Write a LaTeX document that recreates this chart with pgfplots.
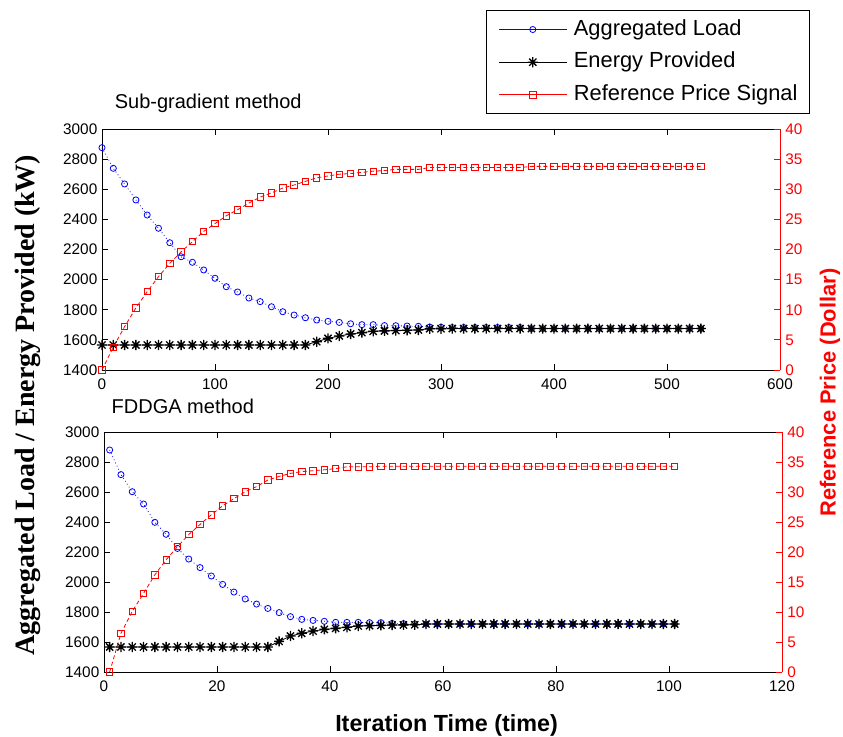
\documentclass[border=0pt]{standalone}
\usepackage{fontspec}
\setmainfont{Liberation Sans}
\newfontfamily\timesfont{Liberation Serif}
\usepackage{pgfplots}
\pgfplotsset{compat=1.18}
\usepackage{pgfplotstable}

% MATLAB-like '*' marker: a + and an x on top of each other
\pgfdeclareplotmark{mstar}{%
  \pgfpathmoveto{\pgfqpoint{-\pgfplotmarksize}{0pt}}%
  \pgfpathlineto{\pgfqpoint{\pgfplotmarksize}{0pt}}%
  \pgfpathmoveto{\pgfqpoint{0pt}{-\pgfplotmarksize}}%
  \pgfpathlineto{\pgfqpoint{0pt}{\pgfplotmarksize}}%
  \pgfpathmoveto{\pgfqpoint{-.707\pgfplotmarksize}{-.707\pgfplotmarksize}}%
  \pgfpathlineto{\pgfqpoint{.707\pgfplotmarksize}{.707\pgfplotmarksize}}%
  \pgfpathmoveto{\pgfqpoint{-.707\pgfplotmarksize}{.707\pgfplotmarksize}}%
  \pgfpathlineto{\pgfqpoint{.707\pgfplotmarksize}{-.707\pgfplotmarksize}}%
  \pgfusepathqstroke}

% sub-gradient method
\pgfplotstableread{
x load energy price
0 2876 1566 0
10 2739 1566 3.8
20 2635 1566 7.2
30 2529 1566 10.3
40 2429 1566 13.0
50 2341 1566 15.5
60 2245 1566 17.7
70 2152 1566 19.6
80 2115 1566 21.3
90 2064 1566 23.0
100 2009 1566 24.3
110 1953 1566 25.6
120 1918 1566 26.6
130 1878 1566 27.7
140 1854 1566 28.7
150 1820 1566 29.4
160 1787 1566 30.2
170 1765 1566 30.7
180 1747 1566 31.3
190 1732 1588 31.9
200 1723 1610 32.2
210 1716 1626 32.5
220 1707 1639 32.6
230 1701 1648 32.8
240 1701 1657 33.0
250 1695 1660 33.1
260 1694 1662 33.3
270 1692 1664 33.3
280 1690 1666 33.3
290 1685 1674 33.6
300 1684 1674 33.6
310 1682 1675 33.6
320 1682 1675 33.6
330 1682 1675 33.6
340 1682 1675 33.6
350 1682 1675 33.6
360 1682 1675 33.6
370 1682 1675 33.6
380 1675 1675 33.8
390 1675 1675 33.8
400 1675 1675 33.8
410 1675 1675 33.8
420 1675 1675 33.8
430 1675 1675 33.8
440 1675 1675 33.8
450 1675 1675 33.8
460 1675 1675 33.8
470 1675 1675 33.8
480 1675 1675 33.8
490 1675 1675 33.8
500 1675 1675 33.8
510 1675 1675 33.8
520 1675 1675 33.8
530 1675 1675 33.8
}\subgrad

% FDDGA method
\pgfplotstableread{
x load energy price
1 2880 1567 0
3 2716 1567 6.45
5 2602 1567 10.1
7 2520 1567 13.1
9 2398 1567 16.2
11 2318 1567 18.7
13 2224 1567 20.9
15 2153 1567 22.9
17 2096 1567 24.6
19 2040 1567 26.2
21 1984 1567 27.7
23 1933 1567 28.9
25 1887 1567 30.05
27 1853 1567 30.9
29 1824 1567 32.0
31 1796 1604 32.6
33 1769 1640 33.1
35 1751 1658 33.4
37 1744 1673 33.55
39 1738 1684 33.7
41 1731 1691 33.9
43 1731 1698 34.2
45 1731 1707 34.2
47 1729 1709 34.2
49 1729 1711 34.3
51 1724 1713 34.3
53 1722 1714 34.3
55 1721 1715 34.3
57 1720 1720 34.3
59 1720 1720 34.3
61 1720 1720 34.3
63 1720 1720 34.3
65 1720 1720 34.3
67 1720 1720 34.3
69 1720 1720 34.3
71 1720 1720 34.3
73 1720 1720 34.3
75 1720 1720 34.3
77 1720 1720 34.3
79 1720 1720 34.3
81 1720 1720 34.3
83 1720 1720 34.3
85 1720 1720 34.3
87 1720 1720 34.3
89 1720 1720 34.3
91 1720 1720 34.3
93 1720 1720 34.3
95 1720 1720 34.3
97 1720 1720 34.3
99 1720 1720 34.3
101 1720 1720 34.3
}\fddga

\pgfplotsset{
  mat/.style={
    scale only axis, width=508.5pt, clip=false,
    tick align=inside, major tick length=4.5pt,
    axis line style={line width=0.6pt}, every tick/.style={line width=0.6pt},
    tick label style={font=\fontsize{11.5}{13}\selectfont},
    xticklabel style={yshift=-3pt},
    /pgf/number format/assume math mode=true,
    /pgf/number format/1000 sep={},
    title style={font=\fontsize{15}{17}\selectfont, anchor=base west},
  },
  leftax/.style={mat, axis y line*=left, ymin=1400, ymax=3000, ytick={1400,1600,...,3000}},
  rightax/.style={mat, axis y line*=right, axis x line=none, ymin=0, ymax=40,
    ytick={0,5,...,40}, y axis line style={red, line width=0.6pt},
    ytick style={red}, yticklabel style={red, xshift=0.5pt}},
  loadplot/.style={blue, line width=0.6pt, dotted, mark=o, mark size=2.3pt,
    mark options={solid, line width=0.6pt}},
  energyplot/.style={black, line width=0.6pt, mark=mstar, mark size=3.8pt,
    mark options={line width=1pt}},
  priceplot/.style={red, line width=0.6pt, dash pattern=on 3pt off 2pt, mark=square,
    mark size=2.4pt, mark options={solid, line width=0.6pt}},
}

\begin{document}
\begin{tikzpicture}
\useasboundingbox (-76.5pt,96.75pt) rectangle (555.75pt,-455.25pt);

% ---- top: sub-gradient method
\begin{axis}[leftax, at={(0,0)}, anchor=north west, height=180.75pt,
  xmin=0, xmax=600, xtick={0,100,...,600},
  title={Sub-gradient method}, title style={at={(0.012,1)}, yshift=9.2pt}]
\addplot[loadplot] table[x=x, y=load] {\subgrad};
\addplot[energyplot] table[x=x, y=energy] {\subgrad};
\end{axis}
\begin{axis}[rightax, at={(0,0)}, anchor=north west, height=180.75pt,
  xmin=0, xmax=600,
  legend image code/.code={\draw[mark repeat=2, mark phase=2, #1]
    plot coordinates {(0pt,0pt) (25.5pt,0pt) (51pt,0pt)};},
  legend style={at={(1.0443,1.4938)}, anchor=north east, draw=black, line width=0.8pt,
    font=\fontsize{16.4}{18}\selectfont, inner xsep=9pt, inner ysep=6.5pt, row sep=9pt,
    nodes={inner sep=0pt, text height=12pt, text depth=3.5pt},
    /tikz/every odd column/.append style={column sep=5pt}},
  legend cell align=left]
\addlegendimage{blue, line width=0.6pt, solid, mark=o, mark size=2.3pt}
\addlegendimage{black, line width=0.6pt, solid, mark=mstar, mark size=3.8pt, mark options={line width=1pt}}
\addlegendimage{red, line width=0.6pt, solid, mark=square, mark size=2.4pt}
\addplot[priceplot, forget plot] table[x=x, y=price] {\subgrad};
\legend{Aggregated Load, Energy Provided, Reference Price Signal}
\end{axis}

% ---- bottom: FDDGA method
\begin{axis}[leftax, at={(1.5pt,-227.25pt)}, anchor=north west, height=180pt,
  xmin=0, xmax=120, xtick={0,20,...,120},
  title={FDDGA method}, title style={at={(0.0044,1)}, yshift=7.7pt}]
\addplot[loadplot] table[x=x, y=load] {\fddga};
\addplot[energyplot] table[x=x, y=energy] {\fddga};
\end{axis}
\begin{axis}[rightax, at={(1.5pt,-227.25pt)}, anchor=north west, height=180pt,
  xmin=0, xmax=120]
\addplot[priceplot] table[x=x, y=price] {\fddga};
\end{axis}

% shared labels
\node[rotate=90, font=\timesfont\bfseries\fontsize{21}{24}\selectfont]
  at (-55.5pt,-207pt) {Aggregated Load / Energy Provided (kW)};
\node[rotate=90, red, font=\bfseries\fontsize{16.4}{18}\selectfont]
  at (546pt,-197.6pt) {Reference Price (Dollar)};
\node[anchor=base, font=\bfseries\fontsize{17.5}{20}\selectfont]
  at (258.4pt,-452pt) {Iteration Time (time)};
\end{tikzpicture}
\end{document}
